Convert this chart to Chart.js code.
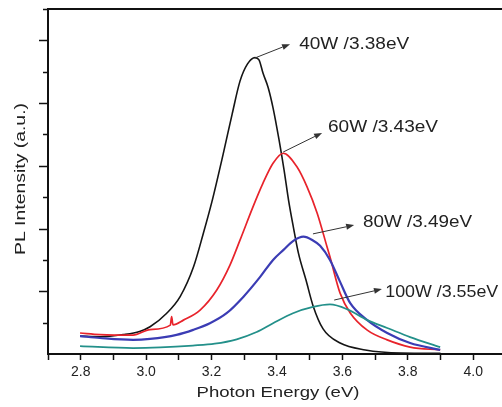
<!DOCTYPE html>
<html>
<head>
<meta charset="utf-8">
<title>PL spectra</title>
<script src="https://cdn.jsdelivr.net/npm/chart.js@4/dist/chart.umd.min.js"></script>
<style>
  html, body { margin: 0; padding: 0; background: #ffffff; }
  #wrap { width: 502px; height: 407px; overflow: hidden; }
</style>
</head>
<body>
<div id="wrap"><canvas id="pl" width="502" height="407"></canvas></div>
<script>
// Photoluminescence spectra for four sputtering powers
const seriesNames = ['40W', '60W', '80W', '100W'];
const peakLabels = ['3.38eV', '3.43eV', '3.49eV', '3.55eV'];

const energy40W = [2.798, 2.86, 2.93, 2.98, 3.012, 3.063, 3.104, 3.145, 3.175, 3.201, 3.235, 3.263, 3.287, 3.31, 3.333, 3.345, 3.3575, 3.373, 3.388, 3.406, 3.422, 3.4355, 3.451, 3.466, 3.489, 3.51, 3.541, 3.593, 3.67, 3.78, 3.90];
const intensity40W = [0.57, 0.55, 0.62, 0.72, 0.87, 1.30, 1.83, 2.78, 3.85, 4.85, 6.35, 7.65, 8.70, 9.25, 9.45, 9.38, 8.95, 8.50, 7.85, 6.85, 5.85, 4.90, 4.00, 3.20, 2.35, 1.55, 0.80, 0.35, 0.13, 0.03, 0.02];

const energy60W = [2.798, 2.859, 2.96, 3.012, 3.074, 3.078, 3.082, 3.114, 3.165, 3.216, 3.257, 3.287, 3.327, 3.357, 3.388, 3.419, 3.461, 3.492, 3.523, 3.553, 3.562, 3.593, 3.624, 3.676, 3.737, 3.807, 3.899];
const intensity60W = [0.67, 0.62, 0.60, 0.78, 0.92, 1.19, 0.93, 1.08, 1.40, 2.04, 2.85, 3.63, 4.70, 5.44, 6.08, 6.40, 5.97, 5.33, 4.49, 3.42, 3.10, 1.94, 1.31, 0.76, 0.45, 0.22, 0.13];

const energy80W = [2.798, 2.859, 2.96, 3.012, 3.093, 3.144, 3.195, 3.246, 3.297, 3.348, 3.388, 3.42, 3.449, 3.481, 3.51, 3.532, 3.562, 3.593, 3.624, 3.676, 3.737, 3.807, 3.899];
const intensity80W = [0.57, 0.51, 0.45, 0.48, 0.61, 0.77, 0.98, 1.30, 1.82, 2.45, 3.00, 3.32, 3.60, 3.74, 3.62, 3.45, 3.00, 2.30, 1.62, 1.08, 0.67, 0.35, 0.13];

const energy100W = [2.798, 2.96, 3.043, 3.143, 3.21, 3.277, 3.338, 3.388, 3.449, 3.51, 3.562, 3.614, 3.676, 3.737, 3.807, 3.899];
const intensity100W = [0.25, 0.19, 0.21, 0.27, 0.33, 0.47, 0.70, 0.98, 1.30, 1.50, 1.58, 1.43, 1.08, 0.83, 0.54, 0.22];

// Arrow tail / head and label anchor, in data units (eV, a.u.)
const callouts = [
  { tail: [3.333, 9.44], head: [3.440, 9.88], text: [3.468, 9.72], width: 110 },
  { tail: [3.419, 6.44], head: [3.538, 7.05], text: [3.556, 7.08], width: 110 },
  { tail: [3.510, 3.83], head: [3.636, 4.11], text: [3.663, 4.05], width: 109 },
  { tail: [3.575, 1.72], head: [3.721, 2.07], text: [3.731, 1.82], width: 113 }
];

const FONT = '"Liberation Sans", Arial, Helvetica, sans-serif';
const INK = '#222222';

function pairs(xs, ys) { return xs.map((x, i) => ({ x: x, y: ys[i] })); }

function drawStretched(ctx, text, x, y, targetW, centered) {
  const w = ctx.measureText(text).width;
  ctx.save();
  ctx.translate(x, y);
  ctx.scale(targetW / w, 1);
  ctx.textAlign = 'left';
  ctx.fillText(text, centered ? -w / 2 : 0, 0);
  ctx.restore();
}

const decorations = {
  id: 'decorations',
  afterDraw(chart) {
    const ctx = chart.ctx;
    const area = chart.chartArea;
    const xs = chart.scales.x;
    const ys = chart.scales.y;

    ctx.save();
    // top frame line
    ctx.strokeStyle = '#111';
    ctx.lineWidth = 2;
    ctx.beginPath();
    ctx.moveTo(area.left - 1, area.top);
    ctx.lineTo(area.right, area.top);
    ctx.stroke();

    // left axis ticks: long on even values, short on odd
    ctx.lineWidth = 1.5;
    ys.ticks.forEach(t => {
      if (t.value <= 0) return;
      const py = Math.round(ys.getPixelForValue(t.value)) + 0.5;
      const len = (Math.round(t.value) % 2 === 0) ? 8 : 4;
      ctx.beginPath();
      ctx.moveTo(area.left - 1, py);
      ctx.lineTo(area.left - 1 - len, py);
      ctx.stroke();
    });

    // axis titles
    ctx.fillStyle = INK;
    ctx.textBaseline = 'alphabetic';
    ctx.font = '15px ' + FONT;
    drawStretched(ctx, 'Photon Energy (eV)', 278, 397, 163, true);

    ctx.save();
    ctx.translate(25, 179);
    ctx.rotate(-Math.PI / 2);
    drawStretched(ctx, 'PL Intensity (a.u.)', 0, 0, 152, true);
    ctx.restore();

    // peak callouts
    ctx.font = '16px ' + FONT;
    callouts.forEach((c, i) => {
      const x0 = xs.getPixelForValue(c.tail[0]);
      const y0 = ys.getPixelForValue(c.tail[1]);
      const x1 = xs.getPixelForValue(c.head[0]);
      const y1 = ys.getPixelForValue(c.head[1]);
      const ang = Math.atan2(y1 - y0, x1 - x0);
      const headLen = 8, headHalf = 3;
      ctx.strokeStyle = '#333';
      ctx.fillStyle = '#333';
      ctx.lineWidth = 1;
      ctx.beginPath();
      ctx.moveTo(x0, y0);
      ctx.lineTo(x1 - headLen * Math.cos(ang), y1 - headLen * Math.sin(ang));
      ctx.stroke();
      ctx.beginPath();
      ctx.moveTo(x1, y1);
      ctx.lineTo(x1 - headLen * Math.cos(ang) + headHalf * Math.sin(ang),
                 y1 - headLen * Math.sin(ang) - headHalf * Math.cos(ang));
      ctx.lineTo(x1 - headLen * Math.cos(ang) - headHalf * Math.sin(ang),
                 y1 - headLen * Math.sin(ang) + headHalf * Math.cos(ang));
      ctx.closePath();
      ctx.fill();

      ctx.fillStyle = INK;
      drawStretched(ctx, seriesNames[i] + ' /' + peakLabels[i],
        xs.getPixelForValue(c.text[0]), ys.getPixelForValue(c.text[1]), c.width, false);
    });
    ctx.restore();
  }
};

const lineStyle = (label, xsArr, ysArr, color, width) => ({
  label: label,
  data: pairs(xsArr, ysArr),
  borderColor: color,
  backgroundColor: color,
  borderWidth: width,
  pointRadius: 0,
  fill: false,
  cubicInterpolationMode: 'monotone'
});

new Chart(document.getElementById('pl'), {
  type: 'line',
  data: {
    datasets: [
      lineStyle(seriesNames[3], energy100W, intensity100W, '#23908a', 1.8),
      lineStyle(seriesNames[2], energy80W, intensity80W, '#3b3cb4', 2.2),
      lineStyle(seriesNames[1], energy60W, intensity60W, '#e8232b', 1.7),
      lineStyle(seriesNames[0], energy40W, intensity40W, '#151515', 1.6)
    ]
  },
  options: {
    responsive: false,
    animation: false,
    devicePixelRatio: 1,
    layout: { padding: { left: 0, right: 0, top: 9, bottom: 0 } },
    plugins: {
      legend: { display: false },
      tooltip: { enabled: false }
    },
    scales: {
      x: {
        type: 'linear',
        min: 2.7,
        max: 4.088,
        afterFit(scale) { scale.height = 53; },
        border: { display: true, color: '#111', width: 2 },
        grid: {
          display: true,
          drawOnChartArea: false,
          drawTicks: true,
          tickLength: 6,
          tickColor: '#111',
          tickWidth: 1.5
        },
        ticks: {
          stepSize: 0.1,
          includeBounds: false,
          autoSkip: false,
          maxRotation: 0,
          padding: 4,
          color: INK,
          font: { family: FONT, size: 14 },
          callback(value) {
            const t = Math.round(value * 10);
            return t % 2 === 0 ? (t / 10).toFixed(1) : '';
          }
        }
      },
      y: {
        type: 'linear',
        min: 0,
        max: 11,
        afterFit(scale) { scale.width = 48; },
        border: { display: true, color: '#111', width: 2 },
        grid: { display: false, drawTicks: false },
        ticks: { display: false, stepSize: 1, includeBounds: false }
      }
    }
  },
  plugins: [decorations]
});
</script>
</body>
</html>
